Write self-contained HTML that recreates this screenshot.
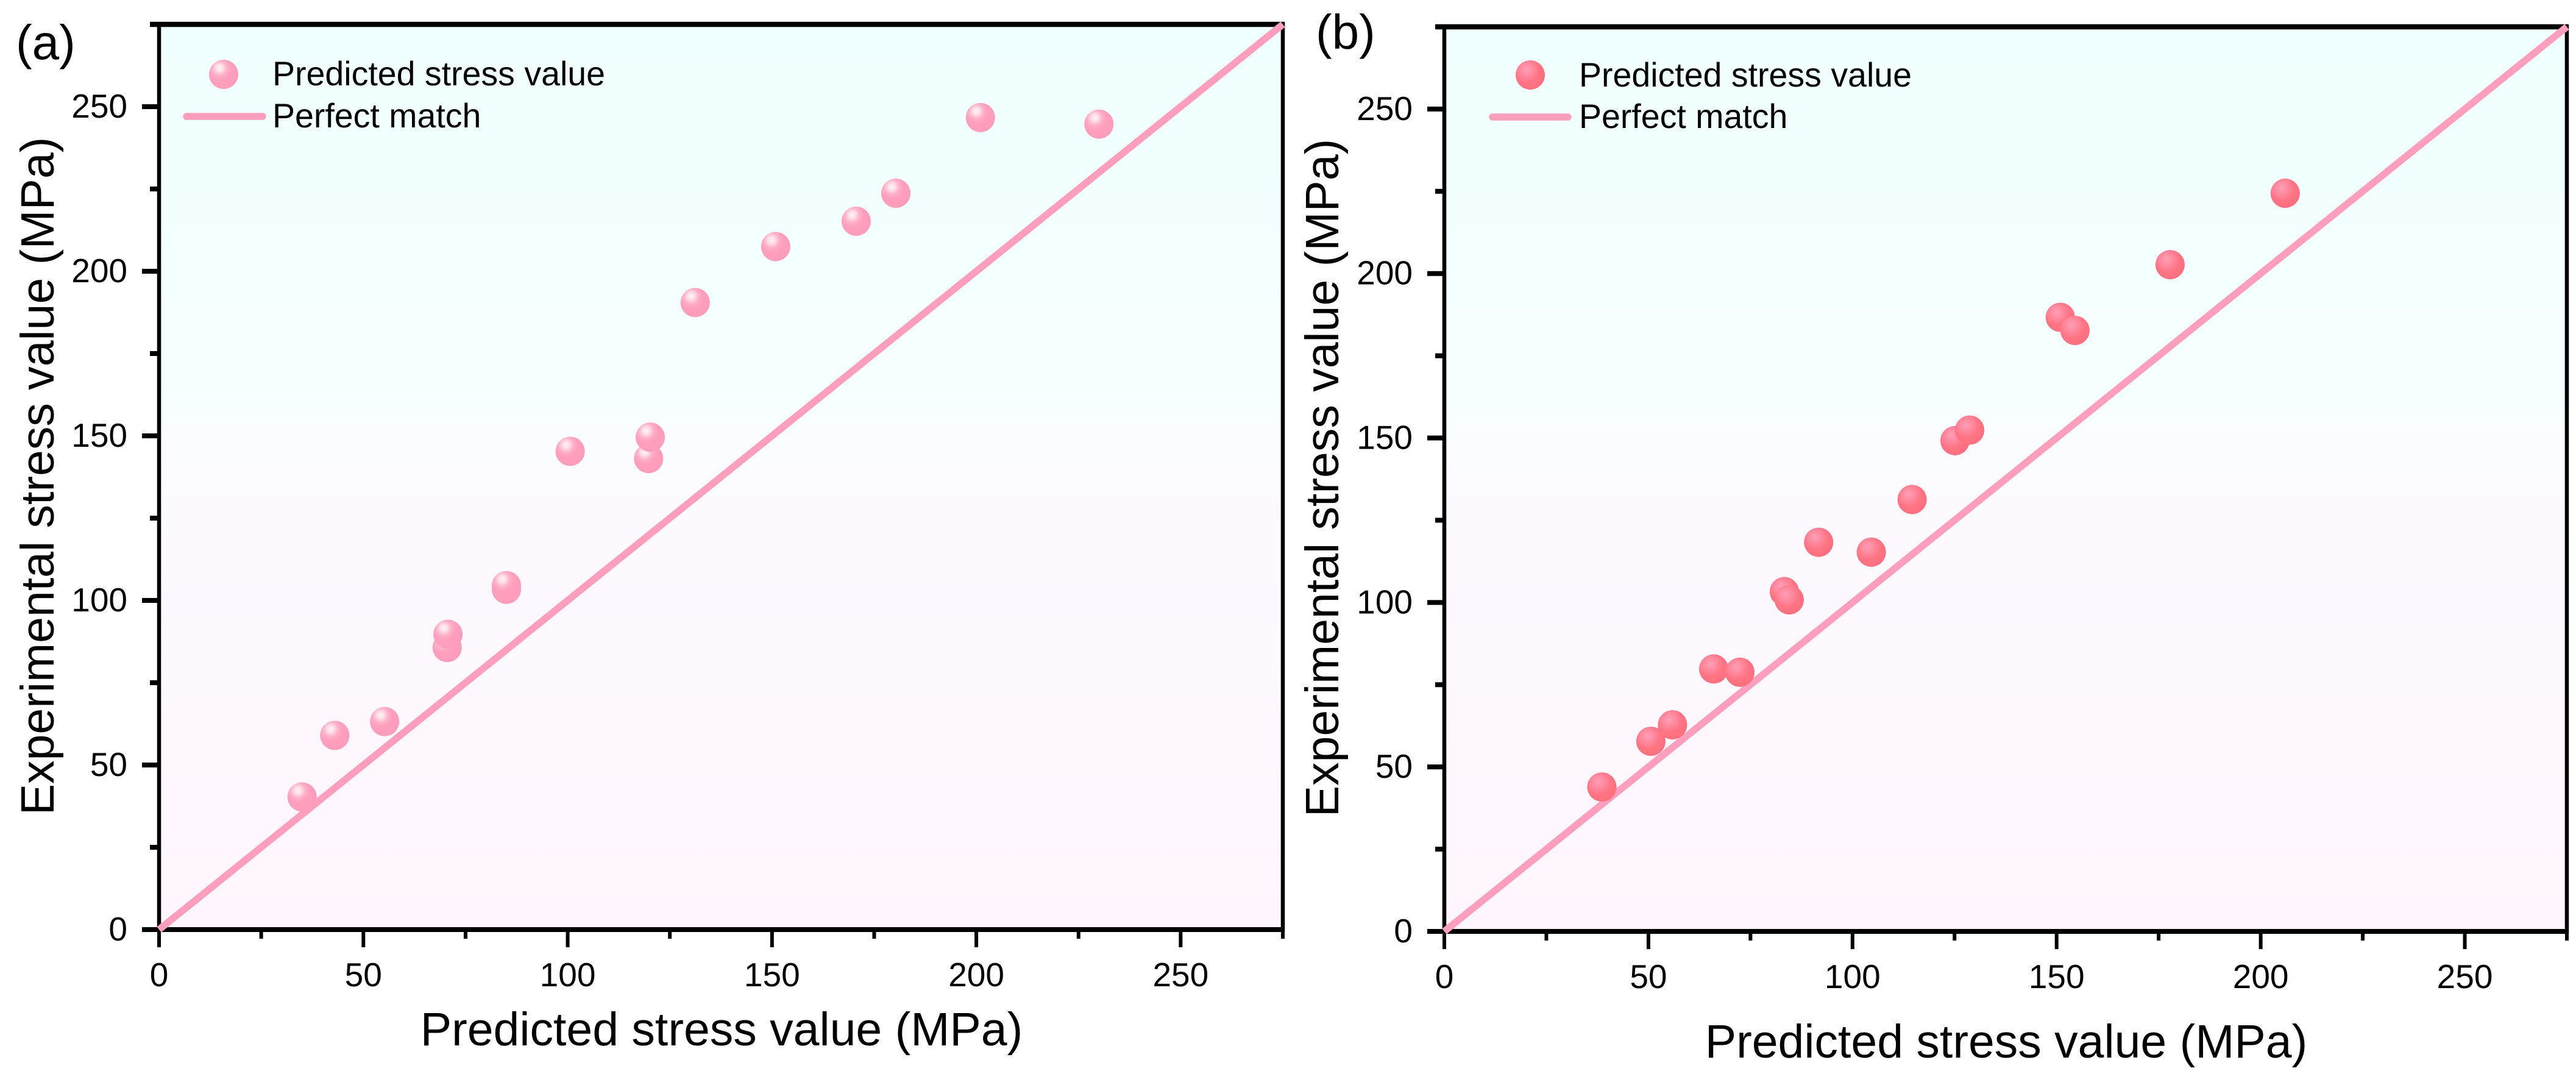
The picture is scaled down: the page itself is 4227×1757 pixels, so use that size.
<!DOCTYPE html>
<html lang="en">
<head>
<meta charset="utf-8">
<title>Predicted vs experimental stress</title>
<style>
  html, body { margin: 0; padding: 0; background: #fff; }
  #figure { display: block; width: 4227px; height: 1757px; font-family: "Liberation Sans", Arial, sans-serif; fill: #000; }
  text { font-family: "Liberation Sans", Arial, sans-serif; fill: #000; }
</style>
</head>
<body>
<svg id="figure" xmlns="http://www.w3.org/2000/svg" width="4227" height="1757" viewBox="0 0 4227 1757">
  <defs>
    <linearGradient id="plotBg" x1="0" y1="0" x2="0" y2="1">
      <stop offset="0" stop-color="#f0ffff"/>
      <stop offset="0.2" stop-color="#f3ffff"/>
      <stop offset="0.4" stop-color="#f6ffff"/>
      <stop offset="0.47" stop-color="#fbfcff"/>
      <stop offset="0.58" stop-color="#fdf9ff"/>
      <stop offset="1" stop-color="#fff5fe"/>
    </linearGradient>
    <radialGradient id="ballA" cx="0.36" cy="0.3" r="0.72" fx="0.36" fy="0.28">
      <stop offset="0" stop-color="#fff2f6"/>
      <stop offset="0.14" stop-color="#ffe3ec"/>
      <stop offset="0.36" stop-color="#ffb0c8"/>
      <stop offset="0.55" stop-color="#ff9fbd"/>
      <stop offset="1" stop-color="#ff9dbb"/>
    </radialGradient>
    <radialGradient id="ballB" cx="0.38" cy="0.32" r="0.72">
      <stop offset="0" stop-color="#ff9fb8"/>
      <stop offset="0.3" stop-color="#ff8a9f"/>
      <stop offset="0.6" stop-color="#ff7484"/>
      <stop offset="1" stop-color="#ff6f7f"/>
    </radialGradient>
  </defs>

  <g id="panel-a">
    <rect id="bg-a" x="261" y="44" width="1844" height="1481" fill="url(#plotBg)"/>
    <g id="axes-a"></g>
    <text x="26" y="97" font-size="80">(a)</text>
    <text x="1184" y="1715" font-size="77" text-anchor="middle">Predicted stress value (MPa)</text>
    <text transform="translate(88 781) rotate(-90)" font-size="77" text-anchor="middle">Experimental stress value (MPa)</text>
    <g id="series-a"></g>
    <g>
      <circle cx="367" cy="122" r="24" fill="url(#ballA)"/>
      <text x="447" y="140" font-size="55.5">Predicted stress value</text>
      <line x1="306" y1="191" x2="431" y2="191" stroke="#ff9fbd" stroke-width="11.5" stroke-linecap="round"/>
      <text x="447" y="209" font-size="55.5">Perfect match</text>
    </g>
  </g>

  <g id="panel-b">
    <rect id="bg-b" x="2370" y="48" width="1842" height="1480" fill="url(#plotBg)"/>
    <g id="axes-b"></g>
    <text x="2159" y="80" font-size="80">(b)</text>
    <text x="3292" y="1735" font-size="77" text-anchor="middle">Predicted stress value (MPa)</text>
    <text transform="translate(2196 784) rotate(-90)" font-size="77" text-anchor="middle">Experimental stress value (MPa)</text>
    <g id="series-b"></g>
    <g>
      <circle cx="2511" cy="123" r="24" fill="url(#ballB)"/>
      <text x="2591" y="142" font-size="55.5">Predicted stress value</text>
      <line x1="2449" y1="192" x2="2573" y2="192" stroke="#ff9fbd" stroke-width="11.5" stroke-linecap="round"/>
      <text x="2591" y="210" font-size="55.5">Perfect match</text>
    </g>
  </g>
</svg>

<script>
const predictedA = [35, 43, 55.2, 70.5, 70.7, 85, 85, 100.6, 119.8, 120.2, 131.2, 150.9, 170.6, 180.3, 201, 230];
const experimentalA = [40.3, 59, 63.2, 85.7, 89.7, 103.4, 104.5, 145.3, 143.1, 149.6, 190.5, 207.5, 215.2, 223.7, 246.7, 244.7];
const predictedB = [38.6, 50.6, 55.9, 66, 72.4, 83.3, 84.5, 91.7, 104.6, 114.6, 125.1, 128.7, 150.9, 154.5, 177.8, 206];
const experimentalB = [43.9, 57.8, 62.8, 79.8, 78.8, 103.3, 100.8, 118.3, 115.3, 131.3, 149.2, 152.4, 186.7, 182.7, 202.7, 224.4];
const majorTicks = [0, 50, 100, 150, 200, 250];
const minorTicks = [25, 75, 125, 175, 225, 275];
const perfectMatchLine = [0, 275];
const axisMax = 275;

const SVG_NS = 'http://www.w3.org/2000/svg';

function make(tag, attrs, parent) {
  const node = document.createElementNS(SVG_NS, tag);
  for (const key in attrs) node.setAttribute(key, attrs[key]);
  parent.appendChild(node);
  return node;
}

function drawPanel(id, box, predicted, experimental, ballFill) {
  const xScale = function (v) { return box.left + (v / axisMax) * (box.right - box.left); };
  const yScale = function (v) { return box.bottom - (v / axisMax) * (box.bottom - box.top); };
  const axes = document.getElementById('axes-' + id);
  const series = document.getElementById('series-' + id);

  // frame
  const frame = make('rect', {
    x: xScale(0), y: yScale(axisMax),
    width: xScale(axisMax) - xScale(0), height: yScale(0) - yScale(axisMax),
    fill: 'none', stroke: '#000', 'stroke-width': 6.5
  }, axes);
  
  
  const topEdge = make('line', {
    x1: xScale(0) - 15, y1: yScale(axisMax), x2: xScale(axisMax) + 3, y2: yScale(axisMax),
    stroke: '#000', 'stroke-width': 8.5
  }, axes);
  
  
  const bottomEdge = make('line', {
    x1: xScale(0) - 3, y1: yScale(0), x2: xScale(axisMax) + 3, y2: yScale(0),
    stroke: '#000', 'stroke-width': 8
  }, axes);
  
  

  // major ticks and labels
  majorTicks.forEach(function (v) {
    const xt = make('line', {
      x1: xScale(v), y1: yScale(0), x2: xScale(v), y2: yScale(0) + 29,
      stroke: '#000', 'stroke-width': 6
    }, axes);
    
    
    const yt = make('line', {
      x1: xScale(0), y1: yScale(v), x2: xScale(0) - 28, y2: yScale(v),
      stroke: '#000', 'stroke-width': 8
    }, axes);
    
    
    const xl = make('text', {
      x: xScale(v), y: yScale(0) + 93, 'font-size': 55, 'text-anchor': 'middle'
    }, axes);
    xl.textContent = String(v);
    
    
    const yl = make('text', {
      x: xScale(0) - 52, y: yScale(v) + 18, 'font-size': 55, 'text-anchor': 'end'
    }, axes);
    yl.textContent = String(v);
    
    
  });

  // minor ticks
  minorTicks.forEach(function (v) {
    const xm = make('line', {
      x1: xScale(v), y1: yScale(0), x2: xScale(v), y2: yScale(0) + 15,
      stroke: '#000', 'stroke-width': 6
    }, axes);
    
    
    const ym = make('line', {
      x1: xScale(0), y1: yScale(v), x2: xScale(0) - 15, y2: yScale(v),
      stroke: '#000', 'stroke-width': 8
    }, axes);
    
    
  });

  // perfect-match line
  const match = make('line', {
    x1: xScale(perfectMatchLine[0]), y1: yScale(perfectMatchLine[0]),
    x2: xScale(perfectMatchLine[1]), y2: yScale(perfectMatchLine[1]),
    stroke: '#ff9fbd', 'stroke-width': 11.5
  }, series);
  
  

  // points
  predicted.forEach(function (p, i) {
    const dot = make('circle', {
      cx: xScale(p), cy: yScale(experimental[i]), r: 24, fill: ballFill
    }, series);
    
    
  });
}

drawPanel('a', { left: 261, right: 2105, top: 40, bottom: 1525 }, predictedA, experimentalA, 'url(#ballA)');
drawPanel('b', { left: 2370, right: 4212, top: 44, bottom: 1528 }, predictedB, experimentalB, 'url(#ballB)');
</script>
</body>
</html>
